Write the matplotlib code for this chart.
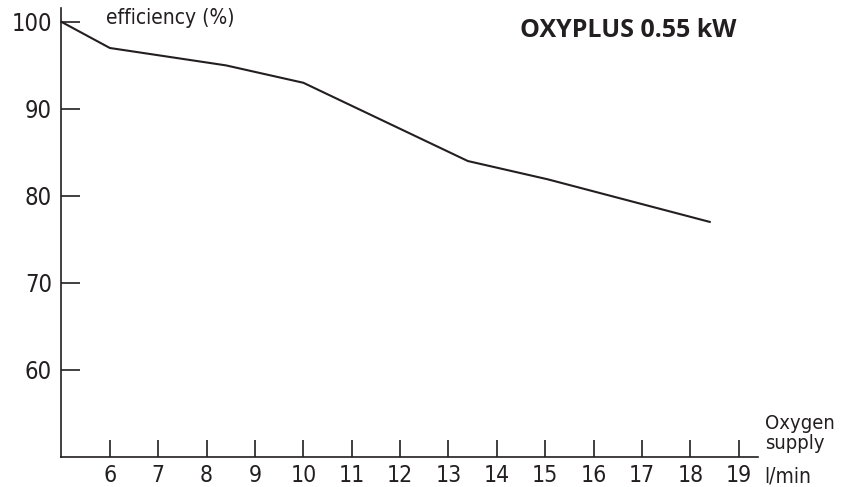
import matplotlib
matplotlib.use('Agg')
import matplotlib.pyplot as plt

# efficiency curve
oxygen_supply = [5.0, 6.0, 8.4, 10.0, 13.4, 15.05, 18.4]
efficiency = [100.0, 97.0, 95.0, 93.0, 84.0, 81.9, 77.0]

x_ticks = list(range(6, 20))
y_ticks = [60, 70, 80, 90, 100]

cor = '#231f20'
fonte = ['DejaVu Sans']

fig = plt.figure(figsize=(8.48, 4.87), dpi=100)
ax = fig.add_axes([0.0725, 0.0622, 0.8215, 0.9214])

ax.plot(oxygen_supply, efficiency, color=cor, lw=1.5, clip_on=False)

ax.set_xlim(5, 19.4)
ax.set_ylim(50, 101.6)
ax.set_xticks(x_ticks)
ax.set_yticks(y_ticks)
ax.set_xticklabels([str(v) for v in x_ticks], family=fonte, stretch='condensed', fontsize=16.5, color=cor)
ax.set_yticklabels([str(v) for v in y_ticks], family=fonte, stretch='condensed', fontsize=17, color=cor)
ax.tick_params(axis='x', direction='in', length=12.5, width=1.2, color=cor, pad=5)
ax.tick_params(axis='y', direction='in', length=14, width=1.2, color=cor, pad=7)

for lado in ['top', 'right']:
    ax.spines[lado].set_visible(False)
for lado in ['left', 'bottom']:
    ax.spines[lado].set_color(cor)
    ax.spines[lado].set_linewidth(1.2)

ax.text(0.064, 1.0, 'efficiency (%)', transform=ax.transAxes, family=fonte, stretch='condensed',
        fontsize=15, color=cor, va='top', ha='left')
fig.text(0.8685, 0.963, 'OXYPLUS 0.55 kW', family=['Open Sans', 'DejaVu Sans'],
         fontweight='bold', fontsize=18, color=cor, va='top', ha='right')

ax.text(1.0095, 0.008, 'Oxygen\nsupply', transform=ax.transAxes, family=fonte, stretch='condensed',
        fontsize=14.5, color=cor, va='bottom', ha='left', linespacing=1.1)
ax.text(1.0095, -0.021, 'l/min', transform=ax.transAxes, family=fonte, stretch='condensed',
        fontsize=15, color=cor, va='top', ha='left')

fig.savefig('out.png', dpi=100)
